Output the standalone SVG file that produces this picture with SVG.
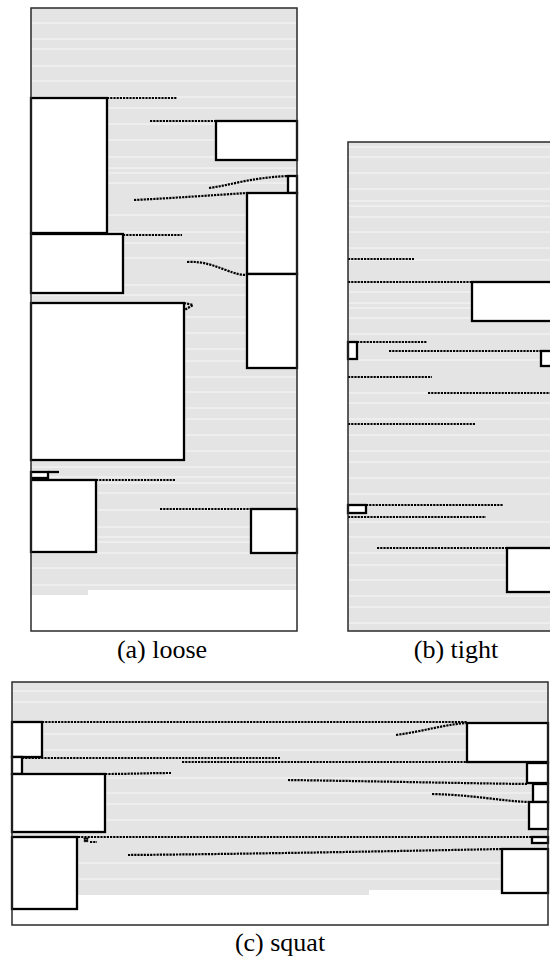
<svg xmlns="http://www.w3.org/2000/svg" width="550" height="958" viewBox="0 0 550 958">
<style>
.bg{fill:#e4e4e4}
.rule{stroke:#f7f7f7;stroke-width:1}
.frame{fill:none;stroke:#2a2a2a;stroke-width:1.5}
.box{fill:#fff;stroke:#000;stroke-width:2.3}
.seg{fill:none;stroke:#000;stroke-width:2.3}
.dot{fill:none;stroke:#000;stroke-width:2.2;stroke-dasharray:2.2 1}
.cap{font-family:"Liberation Serif","Times New Roman",serif;font-size:26px;fill:#000;text-anchor:middle}
</style>

<!-- Panel (a) background -->
<g id="panel-a-bg">
<rect class="bg" x="31" y="8" width="266" height="582"/>
<rect class="bg" x="31" y="590" width="57" height="5"/>
<g class="rule">
<path d="M31,23H297M31,39H297M31,49H297M31,66H297M31,81H297M31,97H297M31,108H297M31,124H297M31,140H297M31,157H297M31,168H297M31,173H297M31,183H297M31,215H297M31,232H297M31,243H297M31,258H297M31,285H297M31,295H297M31,317H297M31,333H297M31,349H297M31,361H297M31,377H297M31,392H297M31,408H297M31,419H297M31,435H297M31,451H297M31,467H297M31,477H297M31,483H297M31,493H297M31,510H297M31,527H297M31,537H297M31,542H297M31,553H297M31,568H297M31,585H297"/>
</g>
</g>

<!-- Panel (b) background -->
<g id="panel-b-bg">
<rect class="bg" x="348" y="142" width="210" height="489"/>
<g class="rule">
<path d="M348,147H550M348,157H550M348,173H550M348,189H550M348,201H550M348,206H550M348,217H550M348,232H550M348,248H550M348,260H550M348,292H550M348,303H550M348,308H550M348,318H550M348,334H550M348,360H550M348,393H550M348,403H550M348,419H550M348,435H550M348,451H550M348,462H550M348,478H550M348,494H550M348,522H550M348,537H550M348,553H550M348,565H550M348,580H550M348,596H550M348,607H550M348,623H550"/>
</g>
</g>

<!-- Panel (c) background -->
<g id="panel-c-bg">
<rect class="bg" x="12" y="682" width="536" height="208"/>
<rect class="bg" x="12" y="890" width="357" height="5"/>
<g class="rule">
<path d="M12,691H548M12,702H548M12,734H548M12,750H548M12,778H548M12,793H548M12,804H548M12,820H548M12,863H548M12,879H548"/>
</g>
</g>

<!-- Connectors -->
<g id="connectors">
<!-- (a) -->
<path class="dot" d="M107,98H177"/>
<path class="dot" d="M150,121H216"/>
<path class="dot" d="M209,188C232,185 248,178 288,176"/>
<path class="dot" d="M134,200C175,198 215,195 247,193"/>
<path class="dot" d="M123,235H182"/>
<path class="dot" d="M187,262C204,261 214,266 226,270C236,274 241,275 247,275"/>
<path class="dot" d="M184,303L193,305L176,315L183,318"/>
<path class="dot" d="M96,480H175"/>
<path class="dot" d="M160,509H251"/>
<!-- (b) -->
<path class="dot" d="M348,259H414"/>
<path class="dot" d="M348,282H472"/>
<path class="dot" d="M357,342H427"/>
<path class="dot" d="M389,351H541"/>
<path class="dot" d="M348,377H432"/>
<path class="dot" d="M428,393H550"/>
<path class="dot" d="M348,424H475"/>
<path class="dot" d="M366,505H503"/>
<path class="dot" d="M348,517H486"/>
<path class="dot" d="M377,548H507"/>
<!-- (c) -->
<path class="dot" d="M42,722H467"/>
<path class="dot" d="M396,735C425,731 442,725 466,723"/>
<path class="dot" d="M22,758H280"/>
<path class="dot" d="M182,762H467"/>
<path class="dot" d="M105,774C130,774 150,773 171,773"/>
<path class="dot" d="M288,780C360,781 450,783 527,784"/>
<path class="dot" d="M432,794C475,795 500,801 529,802"/>
<path class="dot" d="M78,837H532"/>
<path class="dot" d="M84,838L88,842M88,838L84,842M90,842H97"/>
<path class="dot" d="M128,855C250,854 400,851 502,849"/>
</g>

<!-- Panel (a) nodes -->
<g id="a1"><rect class="box" x="31" y="98" width="76" height="135"/></g>
<g id="a2"><rect class="box" x="216" y="121" width="81" height="39"/></g>
<g id="a3"><rect class="box" x="288" y="176" width="9" height="17"/></g>
<g id="a4"><rect class="box" x="247" y="193" width="50" height="81"/></g>
<g id="a5"><rect class="box" x="31" y="234" width="92" height="59"/></g>
<g id="a6"><rect class="box" x="247" y="274" width="50" height="94"/></g>
<g id="a7"><rect class="box" x="31" y="303" width="153" height="157"/></g>
<g id="a8"><rect class="box" x="31" y="472" width="17" height="6"/><path class="seg" d="M48,472H59"/></g>
<g id="a9"><rect class="box" x="31" y="480" width="65" height="72"/></g>
<g id="a10"><rect class="box" x="251" y="509" width="46" height="44"/></g>

<!-- Panel (b) nodes -->
<g id="b1"><rect class="box" x="472" y="282" width="90" height="39"/></g>
<g id="b2"><rect class="box" x="348" y="342" width="9" height="17"/></g>
<g id="b3"><rect class="box" x="541" y="351" width="20" height="15"/></g>
<g id="b4"><rect class="box" x="348" y="505" width="18" height="8"/></g>
<g id="b5"><rect class="box" x="507" y="548" width="60" height="44"/></g>

<!-- Panel (c) nodes -->
<g id="c1"><rect class="box" x="12" y="722" width="30" height="35"/></g>
<g id="c2"><rect class="box" x="467" y="723" width="81" height="39"/></g>
<g id="c3"><rect class="box" x="12" y="757" width="10" height="17"/></g>
<g id="c4"><rect class="box" x="527" y="763" width="21" height="20"/></g>
<g id="c5"><rect class="box" x="12" y="774" width="93" height="58"/></g>
<g id="c6"><rect class="box" x="533" y="784" width="15" height="18"/></g>
<g id="c7"><rect class="box" x="529" y="802" width="19" height="27"/></g>
<g id="c8"><rect class="box" x="532" y="837" width="16" height="6"/></g>
<g id="c9"><rect class="box" x="12" y="837" width="65" height="72"/></g>
<g id="c10"><rect class="box" x="502" y="849" width="46" height="44"/></g>

<!-- Frames -->
<g id="frames">
<rect class="frame" x="31" y="8" width="266" height="623"/>
<rect class="frame" x="348" y="142" width="220" height="489"/>
<rect class="frame" x="12" y="682" width="536" height="243"/>
</g>

<!-- Captions -->
<g id="captions">
<text class="cap" x="162" y="658">(a) loose</text>
<text class="cap" x="456" y="658">(b) tight</text>
<text class="cap" x="280" y="951">(c) squat</text>
</g>
</svg>
